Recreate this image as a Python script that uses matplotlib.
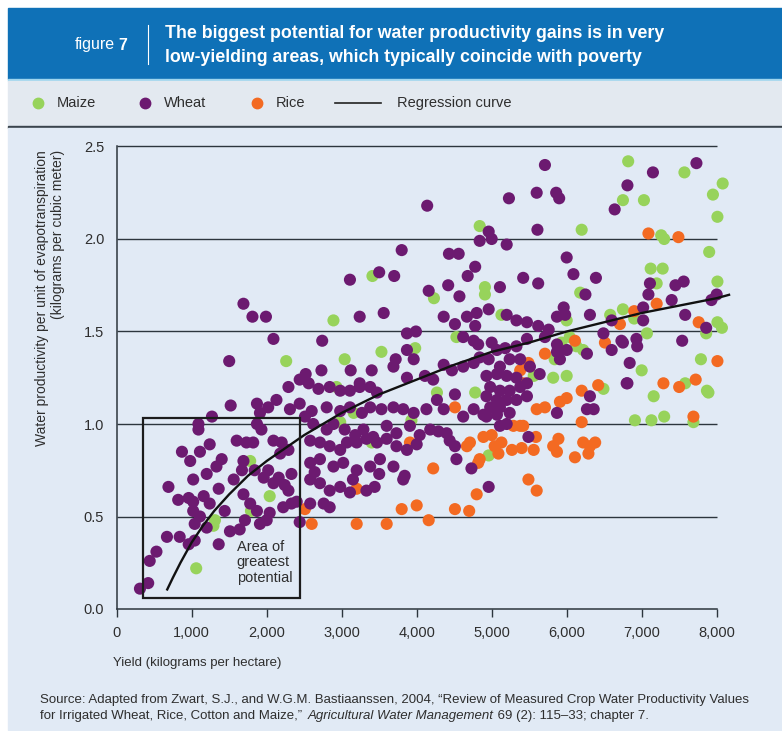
import matplotlib
matplotlib.use("Agg")
import matplotlib.pyplot as plt
from matplotlib.lines import Line2D
from matplotlib.patches import Rectangle

plt.rcParams["font.family"] = ["Liberation Sans", "DejaVu Sans"]

# ---- data (yield kg/ha, water productivity kg/m3) ----
maize = [
    (6820, 2.42), (7570, 2.36), (8080, 2.30), (7950, 2.24), (8010, 2.12), (6750, 2.21),
    (7030, 2.21), (4840, 2.07), (6200, 2.05), (7260, 2.02), (7300, 2.00), (7900, 1.93),
    (7120, 1.84), (7280, 1.84), (8010, 1.77), (7200, 1.76), (4910, 1.74), (4910, 1.70),
    (6180, 1.71), (4230, 1.68),
    (6900, 1.57), (8010, 1.55), (8070, 1.52), (7860, 1.49), (7070, 1.49), (7790, 1.35),
    (7000, 1.29), (7870, 1.18), (7580, 1.22), (7890, 1.17), (7160, 1.15), (6910, 1.02),
    (7130, 1.02), (7300, 1.04), (7690, 1.01),
    (4530, 1.47), (5130, 1.59), (6000, 1.56), (6040, 1.47), (6130, 1.42), (6220, 1.40),
    (6580, 1.59), (6750, 1.62), (5820, 1.25), (6000, 1.26), (6490, 1.19), (4780, 1.17),
    (5560, 1.26), (4960, 0.83), (4270, 1.17), (5930, 1.44), (5840, 1.35),
    (3410, 1.80), (2890, 1.56), (2260, 1.34), (3040, 1.35), (3530, 1.39), (3980, 1.41),
    (1060, 0.22), (1290, 0.45), (1310, 0.48), (1790, 0.53), (2040, 0.61), (1780, 0.80),
    (2930, 1.20), (3930, 1.02), (2980, 1.01), (3160, 1.06), (3400, 0.90),
]

rice = [
    (7090, 2.03), (7490, 2.01),
    (7200, 1.65), (6900, 1.61), (7760, 1.55), (8010, 1.34), (7290, 1.22), (7500, 1.20),
    (7720, 1.24), (7690, 1.04),
    (6710, 1.54), (6510, 1.44), (6110, 1.45), (5710, 1.38), (5490, 1.33), (5380, 1.29),
    (5420, 1.22), (5600, 1.08), (5710, 1.09), (5910, 1.12), (6000, 1.14), (6200, 1.18),
    (6420, 1.21), (6200, 1.01), (5380, 0.99), (5290, 0.99), (4890, 0.93), (5000, 0.94),
    (5040, 0.88), (4670, 0.88), (4710, 0.90), (5130, 0.90), (5270, 0.86), (5400, 0.87),
    (5560, 0.86), (5820, 0.88), (5890, 0.92), (6220, 0.90), (6380, 0.90), (6310, 0.88),
    (6110, 0.82), (6290, 0.84), (4840, 0.81), (4220, 0.76), (4510, 1.09), (4800, 0.62),
    (5490, 0.70), (5600, 0.64), (5420, 0.99), (5590, 0.93), (5870, 0.85), (5090, 0.84),
    (4820, 0.79),
    (4510, 0.54), (4700, 0.53), (4160, 0.48),
    (2510, 0.54), (2600, 0.46), (3200, 0.65), (3200, 0.46), (3600, 0.46), (3800, 0.54),
    (4000, 0.56), (3910, 0.90),
]

wheat = [
    # upper right
    (5710, 2.40), (5230, 2.22), (5600, 2.25), (5860, 2.25), (5900, 2.22), (5610, 2.05),
    (4960, 2.04), (5000, 2.00), (4840, 1.99), (5200, 1.97), (7150, 2.36), (6810, 2.29),
    (6640, 2.16), (7730, 2.41), (4430, 1.92), (4560, 1.92), (6000, 1.90), (4780, 1.85),
    (4680, 1.80), (6090, 1.81), (5420, 1.79), (5620, 1.76), (6390, 1.79), (4420, 1.75),
    (5110, 1.74), (4570, 1.69), (6250, 1.70), (7110, 1.76), (7090, 1.70), (7450, 1.75),
    (7560, 1.77), (7400, 1.67), (7930, 1.67), (8000, 1.70), (4160, 1.72), (4140, 2.18),
    # upper left
    (3800, 1.94), (3500, 1.82), (3700, 1.80), (3110, 1.78), (1690, 1.65), (1810, 1.58),
    (1990, 1.58), (3240, 1.58), (3560, 1.60), (2090, 1.46), (2740, 1.45), (3870, 1.49),
    (3990, 1.50), (1500, 1.34), (3870, 1.40), (3960, 1.35), (3720, 1.35), (3690, 1.31),
    (2730, 1.29), (2520, 1.27), (3120, 1.29), (3400, 1.29), (3870, 1.25), (4110, 1.26),
    (3240, 1.22),
    # low-yield area
    (310, 0.11), (420, 0.14), (440, 0.26), (530, 0.31), (670, 0.39), (690, 0.66),
    (870, 0.85), (980, 0.80), (840, 0.39), (960, 0.35), (1040, 0.37), (820, 0.59),
    (960, 0.60), (1020, 0.58), (1020, 0.70), (1110, 0.85), (1240, 0.89), (1090, 1.00),
    (1090, 0.97), (1270, 1.04), (1020, 0.53), (1040, 0.46), (1110, 0.50), (1200, 0.73),
    (1330, 0.77), (1400, 0.81), (1160, 0.61), (1240, 0.57), (1360, 0.65), (1200, 0.44),
    (1360, 0.35), (1440, 0.53), (1510, 0.42), (1640, 0.43), (1520, 1.10), (1560, 0.70),
    (1670, 0.75), (1690, 0.80), (1600, 0.91), (1730, 0.90), (1820, 0.90), (1710, 0.48),
    (1690, 0.62), (1780, 0.57), (1870, 1.11), (1910, 1.06), (2020, 1.09), (2130, 1.13),
    (1870, 1.00), (1930, 0.97), (1840, 0.75), (1960, 0.71), (2020, 0.75), (2090, 0.68),
    (1870, 0.53), (2000, 0.48), (1910, 0.46), (2040, 0.52), (2090, 0.91), (2200, 0.90),
    (2290, 0.86), (2180, 0.84), (2160, 0.71), (2240, 0.67), (2330, 0.73), (2290, 0.64),
    (2220, 0.55), (2330, 0.57), (2400, 0.58), (2440, 0.47), (2310, 1.08), (2440, 1.11),
    (2290, 1.20), (2440, 1.24),
    # middle
    (2560, 1.22), (2690, 1.19), (2840, 1.20), (2980, 1.18), (3110, 1.18), (3240, 1.20),
    (3380, 1.20), (3470, 1.17),
    (2600, 1.07), (2800, 1.09), (2980, 1.07), (3110, 1.09), (3270, 1.06), (3380, 1.09),
    (3530, 1.08), (3690, 1.09), (3820, 1.08), (3960, 1.06), (4130, 1.08),
    (2510, 1.04), (2620, 1.00), (2800, 0.97), (2890, 1.00), (3040, 0.97), (3180, 0.94),
    (3290, 0.97), (3420, 0.93), (3600, 0.99), (3730, 0.95), (3910, 0.99), (4040, 0.94),
    (2580, 0.91), (2710, 0.90), (2840, 0.88), (2980, 0.86), (3070, 0.90), (3200, 0.90),
    (3330, 0.92), (3470, 0.90), (3600, 0.92), (3730, 0.88), (3870, 0.86), (4000, 0.89),
    (2580, 0.79), (2710, 0.81), (2890, 0.77), (3020, 0.79), (3200, 0.75), (3380, 0.77),
    (3510, 0.81), (3690, 0.77), (3840, 0.72),
    (2580, 0.70), (2710, 0.68), (2840, 0.64), (2980, 0.66), (3110, 0.63), (3330, 0.64),
    (3440, 0.66), (3820, 0.70), (2640, 0.74), (3150, 0.70), (3500, 0.73),
    (2580, 0.57), (2760, 0.57), (2840, 0.55),
    # right middle
    (4360, 1.58), (4510, 1.54), (4670, 1.58), (4800, 1.60), (4960, 1.62), (4780, 1.53),
    (4620, 1.47), (5200, 1.59), (5330, 1.56), (5470, 1.55), (5620, 1.53), (5760, 1.51),
    (5870, 1.58), (5960, 1.63), (5980, 1.59), (6310, 1.59), (6600, 1.56), (6750, 1.44),
    (4760, 1.45), (4820, 1.43), (5000, 1.44), (5070, 1.40), (5180, 1.41), (5330, 1.42),
    (5470, 1.46), (5710, 1.47), (5870, 1.43), (6000, 1.40), (6270, 1.38), (6490, 1.49),
    (6600, 1.40), (6730, 1.45), (6800, 1.22), (6840, 1.33),
    (4220, 1.24), (4360, 1.32), (4470, 1.29), (4620, 1.31), (4760, 1.33), (4840, 1.36),
    (4960, 1.35), (5110, 1.31), (5240, 1.35), (5380, 1.35), (5510, 1.31), (5640, 1.27),
    (5870, 1.39), (5910, 1.35),
    (4930, 1.26), (5070, 1.27), (5200, 1.26), (5330, 1.25), (5470, 1.22), (4980, 1.20),
    (5110, 1.18), (5240, 1.18), (5380, 1.20), (4930, 1.15), (5070, 1.13), (5200, 1.13),
    (5330, 1.13), (5470, 1.15), (4980, 1.09), (5110, 1.09), (5240, 1.06), (5070, 1.05),
    (4930, 1.04), (5200, 1.00), (5110, 0.99),
    (4270, 1.13), (4360, 1.08), (4510, 1.16), (4620, 1.04), (4760, 1.08), (4890, 1.05),
    (4180, 0.97), (4290, 0.96), (4400, 0.95), (4440, 0.91), (4510, 0.88), (4530, 0.81),
    (4730, 0.76), (4960, 0.66), (5490, 0.93), (6310, 1.15), (6360, 1.08), (5870, 1.06),
    (6270, 1.08),
    # far right
    (7020, 1.63), (7020, 1.56), (7580, 1.59), (7860, 1.52), (7540, 1.45), (6930, 1.46),
    (6940, 1.42), (6810, 1.22),
]

# regression curve
curve_x = [667, 750, 850, 1000, 1150, 1300, 1500, 1750, 2000, 2500, 3000, 3500,
           4000, 4500, 5000, 5500, 6000, 6500, 7000, 7500, 8000, 8180]
curve_y = [0.10, 0.17, 0.25, 0.36, 0.45, 0.53, 0.62, 0.72, 0.80, 0.94, 1.06, 1.16,
           1.24, 1.32, 1.39, 1.44, 1.50, 1.55, 1.60, 1.64, 1.68, 1.70]

x_ticks = [0, 1000, 2000, 3000, 4000, 5000, 6000, 7000, 8000]
x_ticklabels = ["0", "1,000", "2,000", "3,000", "4,000", "5,000", "6,000", "7,000", "8,000"]
y_ticks = [0.0, 0.5, 1.0, 1.5, 2.0, 2.5]
y_ticklabels = ["0.0", "0.5", "1.0", "1.5", "2.0", "2.5"]

# potential box: x from, x to, y from, y to
box_x = (350, 2440)
box_y = (0.06, 1.03)

MAIZE_C = "#97d35b"
WHEAT_C = "#6c1a70"
RICE_C = "#f36a22"
HEADER_C = "#0f71b7"
BAND_C = "#e3e9f0"
PANEL_C = "#e1eaf5"
TEXT_C = "#2e2e2e"
LINE_C = "#2c353d"

W, H = 782, 731


def fx(px):
    return px / W


def fy(py):
    return 1 - py / H


fig = plt.figure(figsize=(W / 100, H / 100), dpi=100, facecolor="white")

# background panels
fig.add_artist(Rectangle((fx(8), fy(79)), 1 - fx(8), (79 - 8) / H,
                         transform=fig.transFigure, color=HEADER_C, zorder=0))
fig.add_artist(Rectangle((fx(8), fy(81)), 1 - fx(8), 2 / H,
                         transform=fig.transFigure, color="#9fd6ee", zorder=0))
fig.add_artist(Rectangle((fx(8), fy(126)), 1 - fx(8), (126 - 81) / H,
                         transform=fig.transFigure, color=BAND_C, zorder=0))
fig.add_artist(Rectangle((fx(8), fy(128)), 1 - fx(8), 2 / H,
                         transform=fig.transFigure, color="#3a444d", zorder=0))
fig.add_artist(Rectangle((fx(8), fy(730)), 1 - fx(8), (730 - 128) / H,
                         transform=fig.transFigure, color=PANEL_C, zorder=0))

# header
fig.text(fx(75), fy(45), "figure", color="white", fontsize=11.5, va="center")
fig.text(fx(118), fy(45), "7", color="white", fontsize=11.5, fontweight="bold", va="center")
fig.add_artist(Line2D([fx(148), fx(148)], [fy(25), fy(64)], color="white", lw=0.8,
                      transform=fig.transFigure))
fig.text(fx(165), fy(33), "The biggest potential for water productivity gains is in very",
         color="white", fontsize=12.8, fontweight="bold", va="center")
fig.text(fx(165), fy(57), "low-yielding areas, which typically coincide with poverty",
         color="white", fontsize=12.8, fontweight="bold", va="center")

# legend band
for px, c, name in [(38, MAIZE_C, "Maize"), (145, WHEAT_C, "Wheat"), (257, RICE_C, "Rice")]:
    fig.add_artist(Line2D([fx(px)], [fy(103)], marker="o", ms=7.5, color=c, lw=0,
                          transform=fig.transFigure))
    fig.text(fx(px + 19), fy(103), name, color=TEXT_C, fontsize=10.5, va="center")
fig.add_artist(Line2D([fx(335), fx(381)], [fy(103), fy(103)], color="#222222", lw=1.2,
                      transform=fig.transFigure))
fig.text(fx(397), fy(103), "Regression curve", color=TEXT_C, fontsize=10.5, va="center")

# main axes
x0, x1 = 116.7, 740
y0, ytop = 609, 137.25
ax = fig.add_axes([fx(x0), fy(y0), (x1 - x0) / W, (y0 - ytop) / H])
ax.set_facecolor("none")
ax.set_xlim(0, 8311)
ax.set_ylim(0, 2.55)

ax.hlines(y_ticks[1:], 0, 8000, color=LINE_C, lw=1.0, zorder=1)

for pts, c in [(maize, MAIZE_C), (rice, RICE_C), (wheat, WHEAT_C)]:
    xs = [p[0] for p in pts]
    ys = [p[1] for p in pts]
    ax.scatter(xs, ys, s=76, color=c, edgecolors="none", zorder=2, clip_on=False)

ax.plot(curve_x, curve_y, color="#111111", lw=1.7, zorder=4, solid_capstyle="butt")

ax.add_patch(Rectangle((box_x[0], box_y[0]), box_x[1] - box_x[0], box_y[1] - box_y[0],
                       fill=False, edgecolor="#1c1c1c", lw=1.6, zorder=5))
ax.text(1600, 0.375, "Area of\ngreatest\npotential", fontsize=10.5, color=TEXT_C,
        va="top", ha="left", linespacing=1.15, zorder=5)

for side in ["top", "right"]:
    ax.spines[side].set_visible(False)
ax.spines["left"].set_bounds(0, 2.5)
ax.spines["bottom"].set_bounds(0, 8000)
for side in ["left", "bottom"]:
    ax.spines[side].set_color(LINE_C)
    ax.spines[side].set_linewidth(1.1)

ax.set_xticks(x_ticks)
ax.set_xticklabels(x_ticklabels)
ax.set_yticks(y_ticks)
ax.set_yticklabels(y_ticklabels)
ax.tick_params(axis="x", length=6, width=1.0, color=LINE_C, pad=6,
               labelsize=10.5, labelcolor=TEXT_C)
ax.tick_params(axis="y", length=0, pad=9, labelsize=10.5, labelcolor=TEXT_C)

# axis titles
fig.text(fx(50), fy(150), "Water productivity per unit of evapotranspiration\n"
         "(kilograms per cubic meter)", rotation=90, ha="center", va="top",
         multialignment="right", fontsize=10, color=TEXT_C, linespacing=1.1)
fig.text(fx(113), fy(663), "Yield (kilograms per hectare)", fontsize=9.5,
         color=TEXT_C, va="center")

# source
fig.text(fx(40), fy(700), "Source: Adapted from Zwart, S.J., and W.G.M. Bastiaanssen, 2004, "
         "\u201cReview of Measured Crop Water Productivity Values",
         fontsize=9.5, color=TEXT_C, va="center")
t1 = fig.text(fx(40), fy(716), "for Irrigated Wheat, Rice, Cotton and Maize,\u201d ",
              fontsize=9.5, color=TEXT_C, va="center")
t2 = fig.text(0, 0, "Agricultural Water Management", fontsize=9.5, color=TEXT_C,
              style="italic", va="bottom")
t3 = fig.text(0, 0, " 69 (2): 115\u201333; chapter 7.", fontsize=9.5, color=TEXT_C, va="bottom")
fig.canvas.draw()
r = fig.canvas.get_renderer()
b1 = t1.get_window_extent(r)
t2.set_position((b1.x1 / fig.bbox.width + 0.003, b1.y0 / fig.bbox.height))
b2 = t2.get_window_extent(r)
t3.set_position((b2.x1 / fig.bbox.width, b1.y0 / fig.bbox.height))

fig.savefig("out.png", dpi=100, facecolor="white")
